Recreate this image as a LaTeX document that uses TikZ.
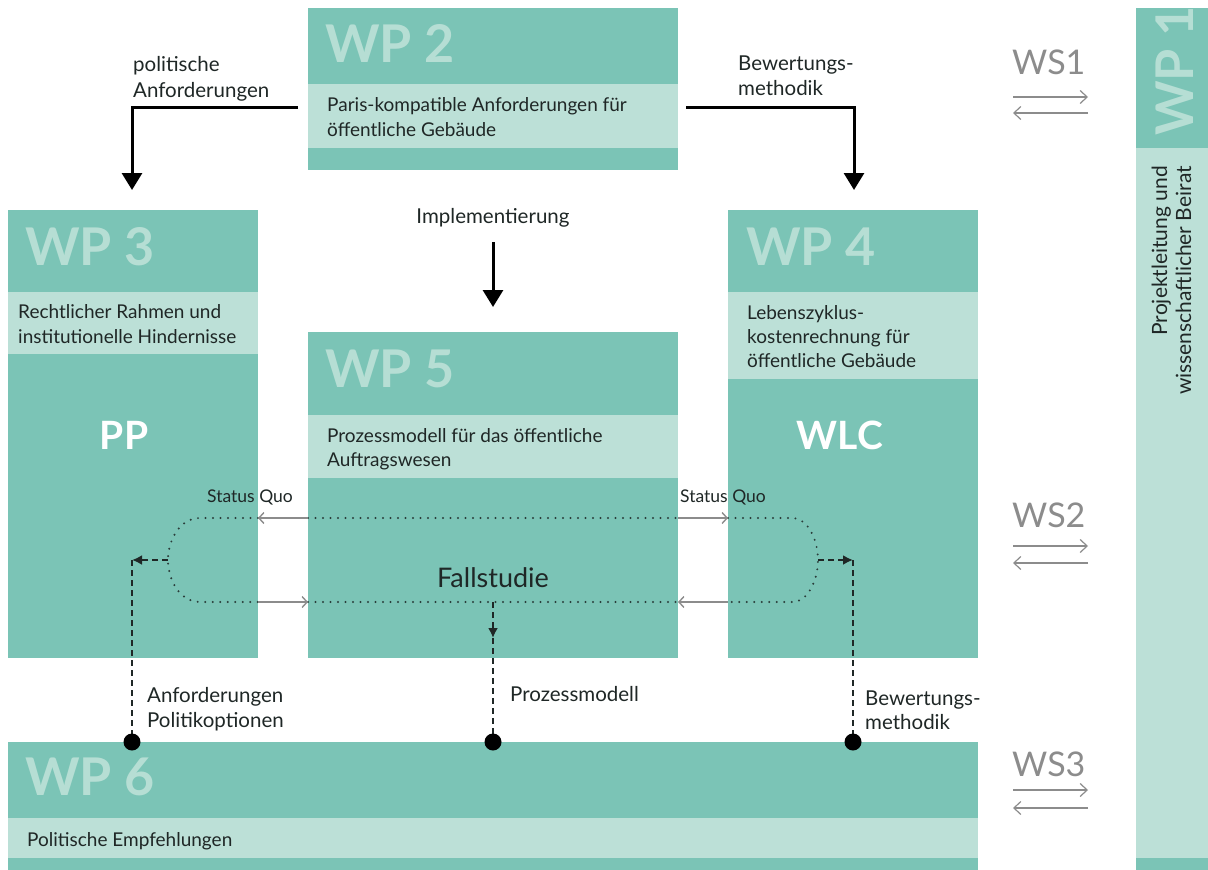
\documentclass[tikz,border=0pt]{standalone}
\usepackage{fontspec}
\setmainfont{Lato}
\usetikzlibrary{arrows.meta}
\definecolor{tdark}{HTML}{7BC4B6}
\definecolor{tlight}{HTML}{BCE0D7}
\definecolor{ttitle}{HTML}{B6DED4}
\definecolor{ink}{HTML}{1F2726}
\definecolor{dotc}{HTML}{2A3D3A}
\definecolor{wsgray}{HTML}{8C8C8C}
\newcommand\bodyfs{\fontsize{19}{25}\selectfont}
\newcommand\labfs{\fontsize{20.5}{25}\selectfont}
\newcommand\titlefs{\fontsize{52}{52}\selectfont\bfseries}
\tikzset{
  ttl/.style={anchor=base west, inner sep=0pt, text=ttitle, font=\titlefs},
  body/.style={anchor=base west, inner sep=0pt, text=ink, font=\bodyfs},
  lab/.style={anchor=base west, inner sep=0pt, text=ink, font=\labfs},
  big/.style={anchor=base, inner sep=0pt, text=white, font=\fontsize{39}{39}\selectfont\bfseries},
  wslab/.style={anchor=base west, inner sep=0pt, text=wsgray, font=\fontsize{34}{34}\selectfont},
  blackarrow/.style={line width=3pt, black, -{Triangle[length=17pt,width=20pt]}},
  dotline/.style={dotc, line width=2.2pt, line cap=round, dash pattern=on 0pt off 7.5pt},
  gapline/.style={wsgray, line width=1.4pt},
  gaparrow/.style={gapline, -{Straight Barb[length=5pt,width=11pt]}},
  dashline/.style={ink, line width=2pt, dash pattern=on 6pt off 4pt},
  wsarrow/.style={wsgray, line width=1.2pt, -{Straight Barb[length=7pt,width=13pt]}},
}
\begin{document}
\begin{tikzpicture}[x=1pt,y=-1pt]
\useasboundingbox (0,0) rectangle (1208,870);
% ---------- boxes ----------
% WP2
\fill[tdark] (308,8) rectangle (678,170);
\fill[tlight] (308,84) rectangle (678,148);
% WP3
\fill[tdark] (8,210) rectangle (258,658);
\fill[tlight] (8,292) rectangle (258,354);
% WP5
\fill[tdark] (308,332) rectangle (678,658);
\fill[tlight] (308,415) rectangle (678,478);
% WP4
\fill[tdark] (728,210) rectangle (978,658);
\fill[tlight] (728,292) rectangle (978,379);
% WP6
\fill[tdark] (8,742) rectangle (978,870);
\fill[tlight] (8,818) rectangle (978,858);
% WP1
\fill[tdark] (1136,8) rectangle (1208,870);
\fill[tlight] (1136,148) rectangle (1208,858);
% ---------- titles ----------
\node[ttl] (wp2) at (325,62) {WP 2};
\node[ttl] (wp3) at (25,265) {WP 3};
\node[ttl] (wp5) at (325,387) {WP 5};
\node[ttl] (wp4) at (746,265) {WP 4};
\node[ttl] (wp6) at (25,795) {WP 6};
\begin{scope}
\clip (1136,8) rectangle (1208,148);
\node[ttl, rotate=90] (wp1) at (1193,136) {WP 1};
\end{scope}
% ---------- box texts ----------
\node[body] (t2a) at (327,111) {Paris-kompatible Anforderungen für};
\node[body] (t2b) at (327,136) {öffentliche Gebäude};
\node[body] (t3a) at (18,318) {Rechtlicher Rahmen und};
\node[body] (t3b) at (18,343) {institutionelle Hindernisse};
\node[body] (t4a) at (747,319) {Lebenszyklus-};
\node[body] (t4b) at (747,343) {kostenrechnung für};
\node[body] (t4c) at (747,367) {öffentliche Gebäude};
\node[body] (t5a) at (327,442) {Prozessmodell für das öffentliche};
\node[body] (t5b) at (327,466) {Auftragswesen};
\node[body] (t6a) at (27,846) {Politische Empfehlungen};
\node[big] (pp) at (124,449) {PP};
\node[big] (wlc) at (840,449) {WLC};
\node[anchor=base, inner sep=0pt, text=ink, font=\fontsize{27}{27}\selectfont] (fall) at (493,587) {Fallstudie};
\node[anchor=base east, inner sep=0pt, text=ink, font=\fontsize{21}{21}\selectfont, rotate=90] (t1a) at (1167,166) {Projektleitung und};
\node[anchor=base east, inner sep=0pt, text=ink, font=\fontsize{21}{21}\selectfont, rotate=90] (t1b) at (1191,166) {wissenschaftlicher Beirat};
% ---------- top labels & arrows ----------
\node[lab] (lpa) at (133,71) {politische};
\node[lab] (lpb) at (133,97) {Anforderungen};
\node[lab] (lba) at (738,70) {Bewertungs-};
\node[lab] (lbb) at (738,95) {methodik};
\node[lab, anchor=base] (limp) at (493,223) {Implementierung};
\coordinate (a2l) at (298,107);
\coordinate (a3in) at (132,190);
\coordinate (a2r) at (686,107);
\coordinate (a4in) at (854,190);
\coordinate (impS) at (493,242);
\coordinate (impE) at (493,307);
\draw[blackarrow] (a2l) -| (a3in);
\draw[blackarrow] (a2r) -| (a4in);
\draw[blackarrow] (impS) -- (impE);
% ---------- status quo loops ----------
\node[body, font=\fontsize{17.5}{17.5}\selectfont] (sql) at (207,502) {Status Quo};
\node[body, font=\fontsize{17.5}{17.5}\selectfont] (sqr) at (680,502) {Status Quo};
\coordinate (tl1) at (258,518); \coordinate (tl2) at (308,518);
\coordinate (tr1) at (678,518); \coordinate (tr2) at (728,518);
\coordinate (bl1) at (258,602); \coordinate (bl2) at (308,602);
\coordinate (br1) at (678,602); \coordinate (br2) at (728,602);
\coordinate (loopL) at (168,560);
\coordinate (loopR) at (818,560);
\draw[dotline] (tl2) -- (tr1);
\draw[dotline] (bl2) -- (br1);
\draw[dotline] (tl1) -- (200,518) .. controls (180,518) and (168,540) .. (loopL)
  .. controls (168,580) and (180,602) .. (200,602) -- (bl1);
\draw[dotline] (tr2) -- (792,518) .. controls (808,518) and (818,540) .. (loopR)
  .. controls (818,580) and (808,602) .. (792,602) -- (br2);
\draw[gaparrow] (tl2) -- (tl1);
\draw[gaparrow] (bl1) -- (bl2);
\draw[gaparrow] (tr1) -- (tr2);
\draw[gaparrow] (br2) -- (br1);
% ---------- dashed outputs ----------
\coordinate (dL) at (132,560);
\coordinate (dR) at (853,560);
\coordinate (dM) at (493,602);
\coordinate (dMa) at (493,638);
\coordinate (pL) at (132,742);
\coordinate (pM) at (493,742);
\coordinate (pR) at (853,742);
\draw[dashline, -{Latex[length=10pt,width=10pt]}] (loopL) -- (dL);
\draw[dashline, -{Latex[length=10pt,width=10pt]}] (loopR) -- (dR);
\draw[dashline] (dL) -- (pL);
\draw[dashline] (dR) -- (pR);
\draw[dashline, -{Latex[length=10pt,width=10pt]}] (dM) -- (dMa);
\draw[dashline] (dMa) -- (pM);
\fill[black] (pL) circle (8.5pt);
\fill[black] (pM) circle (8.5pt);
\fill[black] (pR) circle (8.5pt);
\node[lab] (lAa) at (147,702) {Anforderungen};
\node[lab] (lAb) at (147,727) {Politikoptionen};
\node[lab] (lP) at (510,701) {Prozessmodell};
\node[lab] (lBa) at (865,705) {Bewertungs-};
\node[lab] (lBb) at (865,729) {methodik};
% ---------- WS ----------
\node[wslab] (ws1) at (1012,74) {WS1};
\node[wslab] (ws2) at (1012,527) {WS2};
\node[wslab] (ws3) at (1012,776) {WS3};
\coordinate (w1a) at (1013,97); \coordinate (w1b) at (1088,97);
\coordinate (w1c) at (1088,113); \coordinate (w1d) at (1013,113);
\coordinate (w2a) at (1013,546); \coordinate (w2b) at (1088,546);
\coordinate (w2c) at (1088,563); \coordinate (w2d) at (1013,563);
\coordinate (w3a) at (1013,790); \coordinate (w3b) at (1088,790);
\coordinate (w3c) at (1088,808); \coordinate (w3d) at (1013,808);
\draw[wsarrow] (w1a) -- (w1b); \draw[wsarrow] (w1c) -- (w1d);
\draw[wsarrow] (w2a) -- (w2b); \draw[wsarrow] (w2c) -- (w2d);
\draw[wsarrow] (w3a) -- (w3b); \draw[wsarrow] (w3c) -- (w3d);
\end{tikzpicture}
\end{document}
